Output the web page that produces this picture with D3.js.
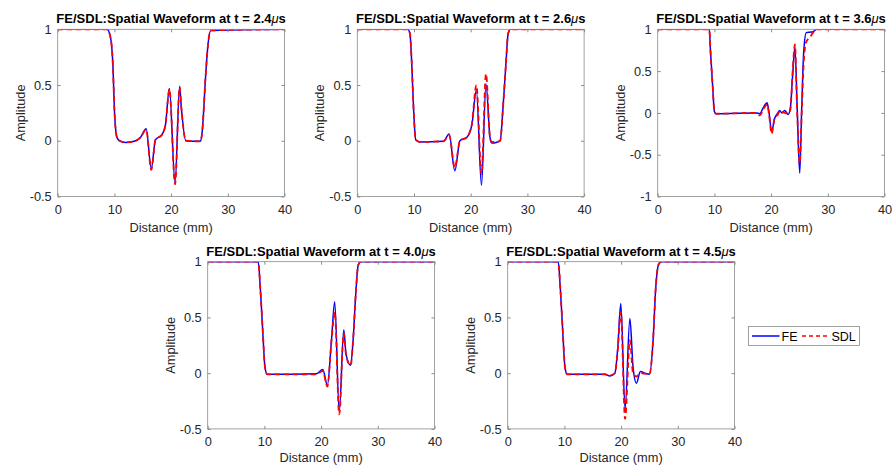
<!DOCTYPE html>
<html>
<head>
<meta charset="utf-8">
<script src="https://cdn.jsdelivr.net/npm/d3@7"></script>
<style>
  body { margin: 0; background: #fff; }
  svg { display: block; font-family: "Liberation Sans", Arial, sans-serif; }
</style>
</head>
<body>
<svg id="chart" width="892" height="466"></svg>
<script>
// snapshot times (us)
const times = ["2.4", "2.6", "3.6", "4.0", "4.5"];
const xTicks = [0, 10, 20, 30, 40];
const yTicksHalf = [-0.5, 0, 0.5, 1];
const yTicksFull = [-1, -0.5, 0, 0.5, 1];

// t = 2.4 us
const x24   = [0, 8.7, 9.3, 9.75, 10.0, 10.45, 10.9, 12, 13.5, 14.6, 15.6, 16.5, 17.25, 18.4, 19.0, 19.7, 20.7, 21.5, 21.8, 22.6, 25.2, 25.5, 26.1, 26.5, 27.0, 40];
const fe24  = [1, 1, 0.93, 0.66, 0.28, 0.03, 0.0, -0.015, -0.005, 0.03, 0.107, -0.25, 0.01, 0.055, 0.14, 0.47, -0.38, 0.49, 0.3, 0.0, -0.005, 0.09, 0.59, 0.86, 0.99, 1];
const sdl24 = [1, 1, 0.93, 0.66, 0.28, 0.03, 0.0, -0.015, -0.005, 0.03, 0.10, -0.26, 0.01, 0.055, 0.14, 0.46, -0.39, 0.48, 0.3, 0.0, -0.005, 0.09, 0.59, 0.86, 0.99, 1];

// t = 2.6 us
const x26   = [0, 8.9, 9.29, 9.58, 9.93, 10.3, 11, 15.2, 16.2, 17.2, 18.1, 19.3, 20.2, 21.0, 21.9, 22.7, 23.4, 23.7, 24.5, 25.2, 25.7, 26.2, 26.6, 27.0, 40];
const fe26  = [1, 1, 0.96, 0.72, 0.28, 0.01, -0.01, -0.005, 0.06, -0.27, 0.0, 0.03, 0.14, 0.455, -0.4, 0.51, 0.03, -0.02, -0.015, 0.0, 0.3, 0.68, 0.96, 1, 1];
const sdl26 = [1, 1, 0.96, 0.72, 0.28, 0.01, -0.01, -0.005, 0.05, -0.24, 0.0, 0.03, 0.15, 0.5, -0.3, 0.6, 0.03, -0.01, -0.01, 0.0, 0.3, 0.68, 0.96, 1, 1];

// t = 3.6 us
const x36   = [0, 9.1, 9.3, 9.7, 10.0, 10.3, 17.4, 18.0, 18.6, 19.3, 19.6, 20.1, 20.65, 21.2, 21.5, 21.9, 22.4, 23.0, 23.4, 23.8, 24.2, 24.6, 25.05, 25.4, 25.75, 26.2, 26.8, 27.4, 28, 40];
const fe36  = [1, 1, 0.75, 0.31, 0.016, -0.01, 0, -0.01, 0.06, 0.12, 0.02, -0.22, -0.06, 0.0, 0.03, 0.0, 0.03, -0.02, 0.06, 0.45, 0.79, 0.06, -0.72, 0.06, 0.73, 0.96, 0.965, 0.97, 1, 1];
const sdl36 = [1, 1, 0.75, 0.31, 0.016, -0.01, 0, -0.03, 0.04, 0.10, 0.0, -0.25, -0.05, -0.02, 0.02, 0.01, 0.0, -0.01, 0.04, 0.5, 0.82, 0.0, -0.6, 0.0, 0.6, 0.85, 0.9, 0.96, 1, 1];

// t = 4.0 us
const x40   = [0, 8.9, 9.3, 9.7, 10.1, 10.5, 19.2, 20.3, 21.1, 21.85, 22.4, 23.2, 24.0, 24.4, 25.2, 25.65, 26.1, 26.55, 27.0, 40];
const fe40  = [1, 1, 0.745, 0.385, 0.055, -0.01, -0.005, 0.034, -0.11, 0.31, 0.64, -0.35, 0.39, 0.17, 0.07, 0.3, 0.7, 0.97, 1, 1];
const sdl40 = [1, 1, 0.745, 0.385, 0.055, -0.01, -0.01, 0.02, -0.12, 0.3, 0.55, -0.37, 0.36, 0.16, 0.07, 0.3, 0.7, 0.97, 1, 1];

// t = 4.5 us
const x45   = [0, 8.9, 9.3, 9.7, 10.1, 10.5, 17.15, 18.0, 18.9, 19.4, 19.95, 20.7, 21.55, 22.1, 22.7, 23.4, 24.2, 25.0, 25.65, 26.1, 26.65, 27.1, 40];
const fe45  = [1, 1, 0.745, 0.385, 0.055, -0.01, -0.01, -0.025, 0.0, 0.22, 0.625, -0.32, 0.49, 0.06, -0.09, 0.015, 0.0, -0.01, 0.3, 0.76, 0.98, 1, 1];
const sdl45 = [1, 1, 0.745, 0.385, 0.055, -0.01, -0.01, -0.02, 0.0, 0.2, 0.55, -0.41, 0.295, 0.0, -0.03, 0.0, -0.005, -0.01, 0.3, 0.76, 0.98, 1, 1];

const panels = [
  {t: times[0], x: x24, fe: fe24, sdl: sdl24, yDom: [-0.5, 1], yTicks: yTicksHalf},
  {t: times[1], x: x26, fe: fe26, sdl: sdl26, yDom: [-0.5, 1], yTicks: yTicksHalf},
  {t: times[2], x: x36, fe: fe36, sdl: sdl36, yDom: [-1, 1],   yTicks: yTicksFull},
  {t: times[3], x: x40, fe: fe40, sdl: sdl40, yDom: [-0.5, 1], yTicks: yTicksHalf},
  {t: times[4], x: x45, fe: fe45, sdl: sdl45, yDom: [-0.5, 1], yTicks: yTicksHalf}
];

// axes placement [left, top]
const pos = [[57.7, 29.3], [357.3, 29.3], [657.7, 29.3], [207.7, 261.7], [507.7, 261.7]];
const pw = 226.8, ph = 167.2;

const svg = d3.select("#chart");
const tickCol = "#262626";
const boxCol = "#8a8a8a";
const fs = "12.8px";

panels.forEach((p, i) => {
  const g = svg.append("g").attr("transform", `translate(${pos[i][0]},${pos[i][1]})`);
  const x = d3.scaleLinear().domain([0, 40]).range([0, pw]);
  const y = d3.scaleLinear().domain(p.yDom).range([ph, 0]);

  //clip for the lines
  g.append("clipPath").attr("id", "clip" + i)
    .append("rect").attr("width", pw).attr("height", ph);

  const line = d3.line()
    .x(d => x(d[0]))
    .y(d => y(d[1]))
    .curve(d3.curveMonotoneX);

  const lines = g.append("g").attr("clip-path", `url(#clip${i})`);
  lines.append("path")
    .datum(p.x.map((v, k) => [v, p.fe[k]]))
    .attr("d", line)
    .attr("fill", "none")
    .attr("stroke", "#0000ff")
    .attr("stroke-width", 1.5);
  lines.append("path")
    .datum(p.x.map((v, k) => [v, p.sdl[k]]))
    .attr("d", line)
    .attr("fill", "none")
    .attr("stroke", "#ff0000")
    .attr("stroke-width", 1.8)
    .attr("stroke-dasharray", "5.5,3.5");

  //axes (ticks inside, matlab style)
  const ax = [
    g.append("g").attr("transform", `translate(0,${ph})`)
      .call(d3.axisBottom(x).tickValues(xTicks).tickSize(-3).tickPadding(8.5).tickFormat(d => d)),
    g.append("g")
      .call(d3.axisTop(x).tickValues(xTicks).tickSize(-3).tickFormat("")),
    g.append("g")
      .call(d3.axisLeft(y).tickValues(p.yTicks).tickSize(-3).tickPadding(6).tickFormat(d => String(d))),
    g.append("g").attr("transform", `translate(${pw},0)`)
      .call(d3.axisRight(y).tickValues(p.yTicks).tickSize(-3).tickFormat(""))
  ];
  ax.forEach(a => {
    a.select(".domain").remove();
    a.selectAll("line").attr("stroke", boxCol);
    a.selectAll("text").attr("fill", tickCol)
      .attr("font-size", fs)
      .attr("font-family", "Liberation Sans, Arial, sans-serif");
  });

  g.append("rect")
    .attr("width", pw).attr("height", ph)
    .attr("fill", "none")
    .attr("stroke", boxCol)
    .attr("stroke-width", 0.8);

  //title
  const title = g.append("text")
    .attr("x", pw / 2).attr("y", i < 3 ? -6 : -5.5)
    .attr("text-anchor", "middle")
    .attr("font-size", "13px")
    .attr("font-weight", "bold")
    .attr("fill", "#000");
  title.append("tspan").text(`FE/SDL:Spatial Waveform at t = ${p.t}`);
  title.append("tspan").attr("font-style", "italic").attr("font-weight", "normal").text("\u03bc");
  title.append("tspan").text("s");

  //axis labels
  g.append("text")
    .attr("x", pw / 2).attr("y", ph + (i < 3 ? 36 : 33))
    .attr("text-anchor", "middle")
    .attr("font-size", fs)
    .attr("fill", tickCol)
    .text("Distance (mm)");
  g.append("text")
    .attr("transform", `translate(-33,${ph / 2}) rotate(-90)`)
    .attr("text-anchor", "middle")
    .attr("font-size", fs)
    .attr("fill", tickCol)
    .text("Amplitude");
});

//legend
const lg = svg.append("g").attr("transform", "translate(748.5,326.5)");
lg.append("rect").attr("width", 111).attr("height", 19)
  .attr("fill", "#fff").attr("stroke", boxCol).attr("stroke-width", 0.8);
lg.append("line").attr("x1", 3.5).attr("x2", 31).attr("y1", 9.5).attr("y2", 9.5)
  .attr("stroke", "#0000ff").attr("stroke-width", 1.5);
lg.append("text").attr("x", 33).attr("y", 14).attr("font-size", "12.5px").attr("fill", "#000").text("FE");
lg.append("line").attr("x1", 53.5).attr("x2", 81).attr("y1", 9.5).attr("y2", 9.5)
  .attr("stroke", "#ff0000").attr("stroke-width", 1.5).attr("stroke-dasharray", "4,3");
lg.append("text").attr("x", 83).attr("y", 14).attr("font-size", "12.5px").attr("fill", "#000").text("SDL");
</script>
</body>
</html>
